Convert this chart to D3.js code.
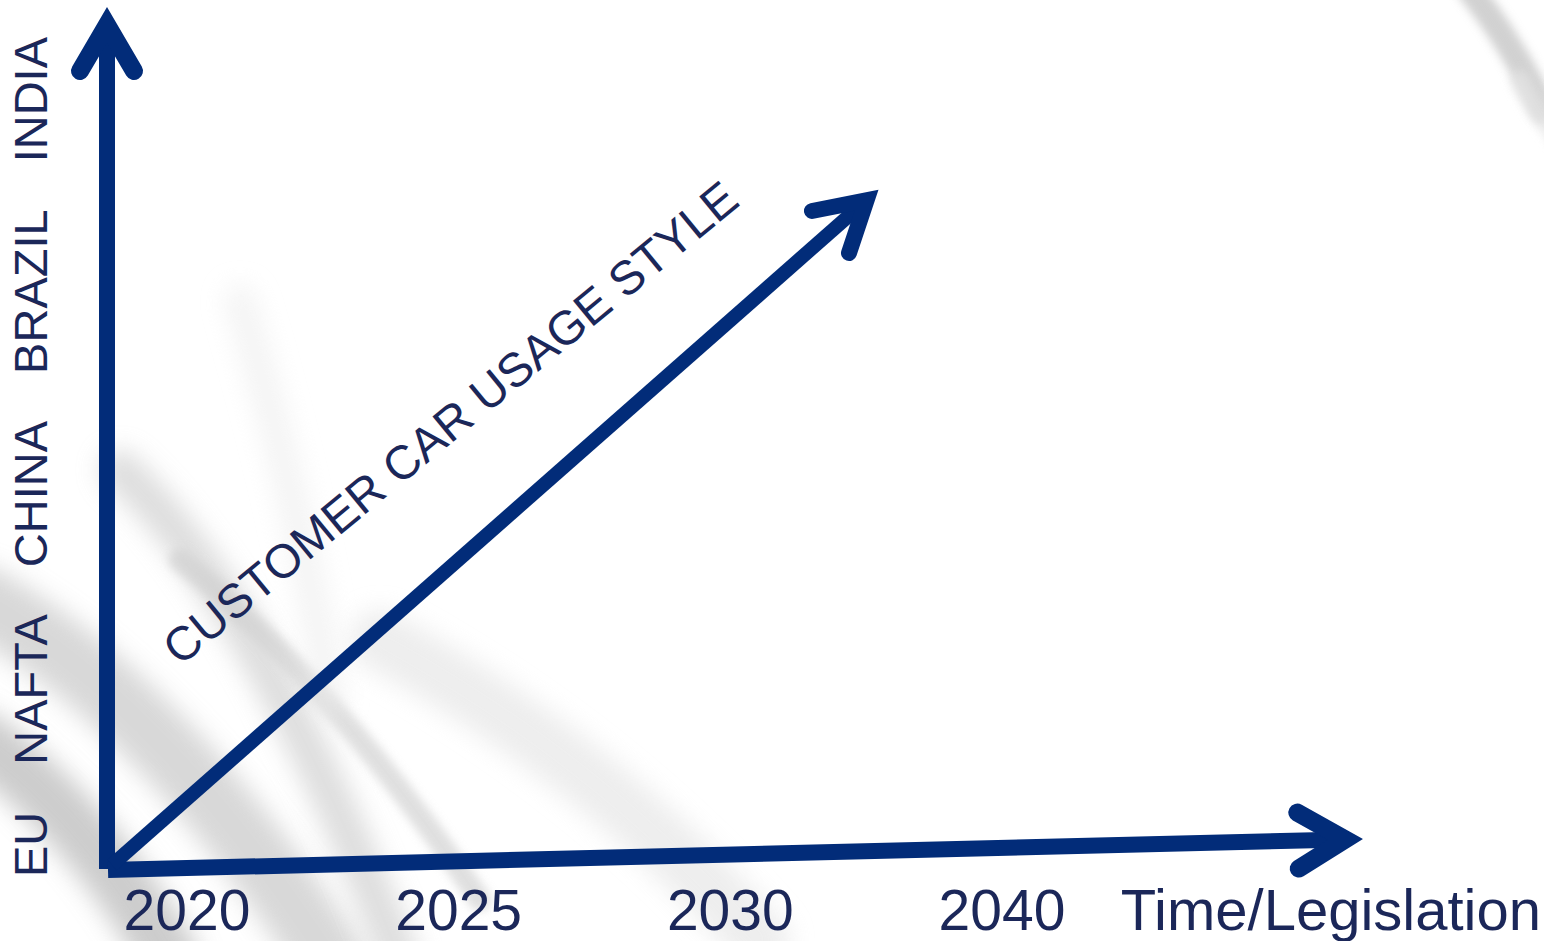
<!DOCTYPE html>
<html>
<head>
<meta charset="utf-8">
<script src="https://cdn.jsdelivr.net/npm/d3@7"></script>
<style>
body{margin:0;background:#fff;overflow:hidden}
</style>
</head>
<body>
<script>
// labels
const regions=["EU","NAFTA","CHINA","BRAZIL","INDIA"]
const years=["2020","2025","2030","2040"]
const xTitle="Time/Legislation"
const diagTitle="CUSTOMER CAR USAGE STYLE"

const W=1544,H=941
const arrowColor="#022c79"
const textColor="#1b2759"
const font="'Liberation Sans', Arial, Helvetica, sans-serif"

// frame of the diagram
const origin={x:107,y:869}
const top_y=9
const right_x=1361
const x_tilt=-30          // horizontal arrow rises a little toward the right
const diag_end={x:877,y:191}

const svg=d3.select("body").append("svg")
	.attr("width",W)
	.attr("height",H)

// --- soft grey background swooshes
const defs=svg.append("defs")
defs.append("filter").attr("id","blur12").attr("x","-50%").attr("y","-50%").attr("width","200%").attr("height","200%")
	.append("feGaussianBlur").attr("stdDeviation",12)
defs.append("filter").attr("id","blur5").attr("x","-50%").attr("y","-50%").attr("width","200%").attr("height","200%")
	.append("feGaussianBlur").attr("stdDeviation",5)

const bg=svg.append("g")
const swooshes=[
	{d:"M64,-20 L64,960",w:24,c:"#cfcfcf",o:0.9,f:"blur12"},
	{d:"M2,-20 L2,960",w:16,c:"#d6d6d6",o:0.9,f:"blur12"},
	{d:"M-20,600 Q160,700 330,960",w:70,c:"#c8c8c8",o:0.7,f:"blur12"},
	{d:"M120,470 Q260,600 400,960",w:40,c:"#cccccc",o:0.65,f:"blur12"},
	{d:"M-20,740 Q90,820 170,960",w:60,c:"#bcbcbc",o:0.75,f:"blur12"},
	{d:"M180,560 Q330,680 480,900",w:22,c:"#cfcfcf",o:0.65,f:"blur5"},
	{d:"M380,640 Q600,760 760,941",w:60,c:"#e2e2e2",o:0.6,f:"blur12"},
	{d:"M240,300 Q300,500 330,700",w:30,c:"#ececec",o:0.6,f:"blur12"},
	{d:"M1470,-10 Q1510,40 1544,110",w:26,c:"#c6c6c6",o:0.8,f:"blur5"},
	{d:"M1520,80 Q1535,110 1560,140",w:20,c:"#e4e4e4",o:0.7,f:"blur5"}
]
bg.selectAll("path").data(swooshes).enter().append("path")
	.attr("d",d=>d.d)
	.attr("fill","none")
	.attr("stroke",d=>d.c)
	.attr("stroke-width",d=>d.w)
	.attr("stroke-linecap","round")
	.attr("opacity",d=>d.o)
	.attr("filter",d=>"url(#"+d.f+")")

// --- arrows
function headPath(tip,from,len,spread,w){
	// chevron whose outer (mitered) point sits on tip
	const hy=Math.hypot(tip.x-from.x,tip.y-from.y)
	const dir={x:(tip.x-from.x)/hy,y:(tip.y-from.y)/hy}
	const perp={x:-dir.y,y:dir.x}
	let back=w/2
	for(let i=0;i<6;i++){
		const a=Math.atan2(spread,len-back)
		back=(w/2)/Math.sin(a)
	}
	const v={x:tip.x-dir.x*back,y:tip.y-dir.y*back}
	const b={x:tip.x-dir.x*len,y:tip.y-dir.y*len}
	const p1={x:b.x+perp.x*spread,y:b.y+perp.y*spread}
	const p2={x:b.x-perp.x*spread,y:b.y-perp.y*spread}
	return {v:v,d:"M"+p1.x+","+p1.y+"L"+v.x+","+v.y+"L"+p2.x+","+p2.y}
}

const arrows=[
	{from:{x:origin.x,y:origin.y},tip:{x:origin.x,y:top_y},w:16,len:62,spread:27},
	{from:{x:origin.x+1,y:origin.y+1},tip:{x:right_x,y:origin.y+x_tilt},w:16,len:63,spread:28},
	{from:{x:origin.x+5,y:origin.y-4},tip:diag_end,w:14,len:62,spread:28}
]
const ag=svg.append("g")
for(const a of arrows){
	const h=headPath(a.tip,a.from,a.len,a.spread,a.w)
	ag.append("line")
		.attr("x1",a.from.x).attr("y1",a.from.y)
		.attr("x2",h.v.x).attr("y2",h.v.y)
		.attr("stroke",arrowColor)
		.attr("stroke-width",a.w)
	ag.append("path")
		.attr("d",h.d)
		.attr("fill","none")
		.attr("stroke",arrowColor)
		.attr("stroke-width",a.w+2)
		.attr("stroke-linecap","round")
		.attr("stroke-linejoin","miter")
		.attr("stroke-miterlimit",10)
}

// --- year labels along the bottom
const x=d3.scalePoint().domain(years).range([187,1002])
svg.append("g").selectAll("text").data(years).enter().append("text")
	.attr("x",d=>x(d))
	.attr("y",930)
	.attr("text-anchor","middle")
	.attr("font-family",font)
	.attr("font-size",57)
	.attr("fill",textColor)
	.text(d=>d)

svg.append("text")
	.attr("x",1541)
	.attr("y",930)
	.attr("text-anchor","end")
	.attr("font-family",font)
	.attr("font-size",58)
	.attr("fill",textColor)
	.text(xTitle)

// --- region labels, rotated, spread evenly from bottom to top of the y arrow
const rg=svg.append("g")
const rlab=rg.selectAll("text").data(regions).enter().append("text")
	.attr("font-family",font)
	.attr("font-size",47)
	.attr("fill",textColor)
	.text(d=>d)
const widths=[]
rlab.each(function(){widths.push(this.getComputedTextLength())})
const sumw=d3.sum(widths)
const span=840
const gap=(span-sumw)/(regions.length-1)
const starts=[]
let acc=0
for(let i=0;i<widths.length;i++){ starts.push(acc); acc+=widths[i]+gap }
const y=d3.scaleLinear().domain([0,span]).range([877,37])
rlab.attr("transform",(d,i)=>"translate(47,"+y(starts[i])+") rotate(-90)")

// --- diagonal label
svg.append("text")
	.attr("transform","translate(180,667) rotate(-39.5)")
	.attr("font-family",font)
	.attr("font-size",47.5)
	.attr("fill",textColor)
	.text(diagTitle)
</script>
</body>
</html>
